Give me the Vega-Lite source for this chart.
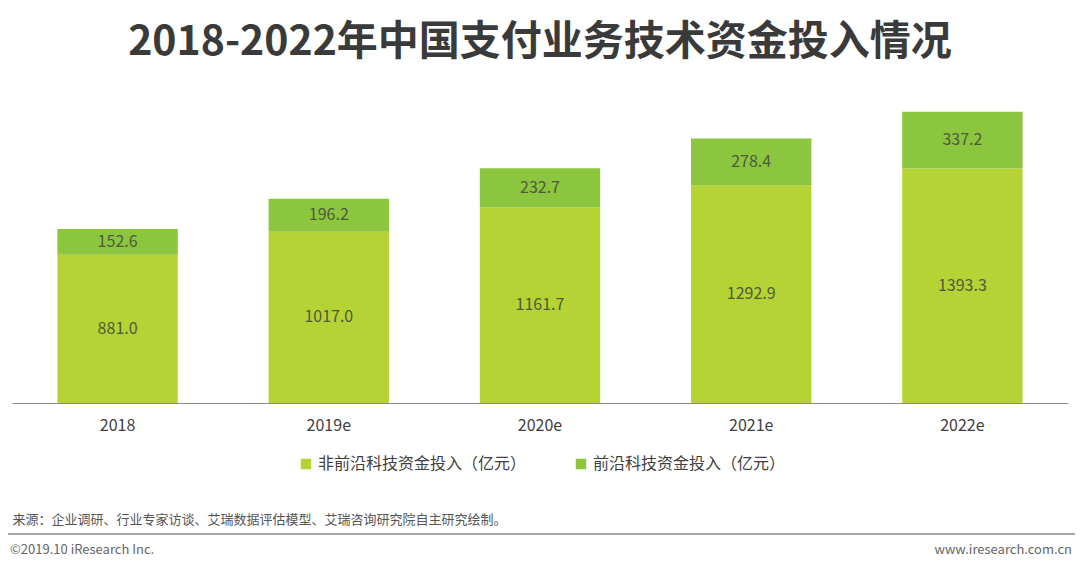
{
  "$schema": "https://vega.github.io/schema/vega-lite/v6.json",
  "width": 1056,
  "height": 303,
  "autosize": {"type": "none"},
  "padding": {"left": 12, "top": 100, "right": 12, "bottom": 163},
  "background": "white",
  "title": {
    "text": "2018-2022年中国支付业务技术资金投入情况",
    "font": "Noto Sans CJK SC",
    "fontSize": 41,
    "fontWeight": "bold",
    "color": "#3a3a3a",
    "anchor": "middle",
    "offset": 36
  },
  "data": {
    "values": [
      {"year": "2018", "type": "非前沿科技资金投入（亿元）", "value": 881.0},
      {"year": "2018", "type": "前沿科技资金投入（亿元）", "value": 152.6},
      {"year": "2019e", "type": "非前沿科技资金投入（亿元）", "value": 1017.0},
      {"year": "2019e", "type": "前沿科技资金投入（亿元）", "value": 196.2},
      {"year": "2020e", "type": "非前沿科技资金投入（亿元）", "value": 1161.7},
      {"year": "2020e", "type": "前沿科技资金投入（亿元）", "value": 232.7},
      {"year": "2021e", "type": "非前沿科技资金投入（亿元）", "value": 1292.9},
      {"year": "2021e", "type": "前沿科技资金投入（亿元）", "value": 278.4},
      {"year": "2022e", "type": "非前沿科技资金投入（亿元）", "value": 1393.3},
      {"year": "2022e", "type": "前沿科技资金投入（亿元）", "value": 337.2}
    ]
  },
  "layer": [
    {
      "mark": {"type": "bar"},
      "encoding": {
        "x": {
          "field": "year",
          "type": "ordinal",
          "sort": null,
          "scale": {"paddingInner": 0.43, "paddingOuter": 0.215},
          "axis": {
            "title": "来源：企业调研、行业专家访谈、艾瑞数据评估模型、艾瑞咨询研究院自主研究绘制。",
            "titleFont": "Noto Sans CJK SC",
            "titleFontSize": 13,
            "titleFontWeight": "normal",
            "titleColor": "#555555",
            "titleAnchor": "start",
            "titleAlign": "left",
            "titleBaseline": "middle",
            "titleX": 0,
            "titleY": 116,
            "labelAngle": 0,
            "labelFont": "Noto Sans CJK SC",
            "labelFontSize": 16,
            "labelColor": "#404040",
            "labelPadding": 14,
            "ticks": false,
            "domainColor": "#8a8a8a",
            "domainWidth": 1.2
          }
        },
        "y": {
          "field": "value",
          "type": "quantitative",
          "stack": "zero",
          "scale": {"domain": [0, 1790]},
          "axis": null
        },
        "order": {"field": "type", "sort": "descending"},
        "color": {
          "field": "type",
          "type": "nominal",
          "scale": {
            "domain": ["非前沿科技资金投入（亿元）", "前沿科技资金投入（亿元）"],
            "range": ["#b5d334", "#8cc63f"]
          },
          "legend": {
            "title": null,
            "orient": "none",
            "direction": "horizontal",
            "legendX": 286,
            "legendY": 356,
            "padding": 0,
            "symbolType": "square",
            "symbolSize": 110,
            "symbolStrokeWidth": 0,
            "labelFont": "Noto Sans CJK SC",
            "labelFontSize": 16,
            "labelColor": "#404040",
            "labelOffset": 4,
            "labelLimit": 400,
            "columnPadding": 46
          }
        }
      }
    },
    {
      "transform": [
        {"stack": "value", "groupby": ["year"], "sort": [{"field": "type", "order": "descending"}], "as": ["v0", "v1"]},
        {"calculate": "(datum.v0 + datum.v1) / 2", "as": "mid"},
        {"calculate": "format(datum.value, '.1f')", "as": "label"}
      ],
      "mark": {"type": "text", "font": "Noto Sans CJK SC", "fontSize": 16, "color": "#4e5a3a", "baseline": "middle"},
      "encoding": {
        "x": {"field": "year", "type": "ordinal", "sort": null},
        "y": {"field": "mid", "type": "quantitative"},
        "text": {"field": "label"}
      }
    },
    {
      "data": {"values": [{"note": "line"}]},
      "mark": {"type": "rule", "color": "#8a8a8a", "strokeWidth": 1.5, "clip": false},
      "encoding": {
        "x": {"value": -4},
        "x2": {"value": 1063},
        "y": {"value": 434}
      }
    },
    {
      "data": {"values": [{"note": "©2019.10 iResearch Inc."}]},
      "mark": {"type": "text", "font": "Noto Sans CJK SC", "fontSize": 13, "color": "#666666", "align": "left", "baseline": "middle", "x": -2, "y": 450},
      "encoding": {"text": {"field": "note"}}
    },
    {
      "data": {"values": [{"note": "www.iresearch.com.cn"}]},
      "mark": {"type": "text", "font": "Noto Sans CJK SC", "fontSize": 13, "color": "#666666", "align": "right", "baseline": "middle", "x": 1060, "y": 450},
      "encoding": {"text": {"field": "note"}}
    }
  ],
  "config": {
    "view": {"stroke": null}
  }
}
